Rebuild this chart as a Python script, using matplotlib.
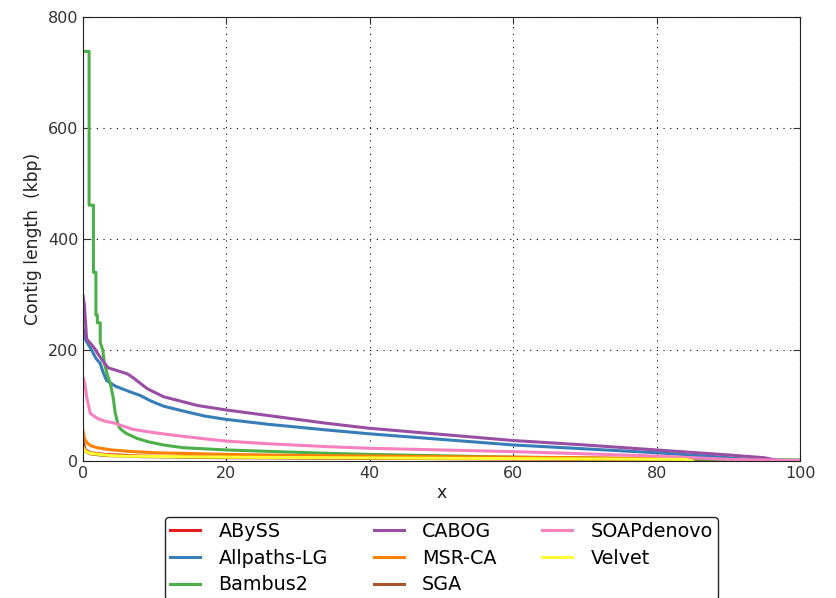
import matplotlib
matplotlib.use("Agg")
import matplotlib.pyplot as plt

# Nx-style contig length curves (x in %, length in kbp)
names = ['ABySS', 'Allpaths-LG', 'Bambus2', 'CABOG', 'MSR-CA', 'SGA', 'SOAPdenovo', 'Velvet']
colors = ['#E41A1C', '#377EB8', '#4DAF4A', '#984EA3', '#FF7F00', '#A65628', '#F781BF', '#FFFF33']

abyss_x = [0, 0.3, 1, 3, 8, 20, 40, 60, 84, 100]
abyss_y = [35, 20, 15, 12, 9, 7, 5, 4, 2, 1]

allpaths_x = [0, 0.2, 0.5, 1.2, 1.8, 2.4, 2.8, 3.3, 4.5, 6.5, 8, 9.5, 11.2, 14, 17, 20, 26, 34, 40, 50, 60, 70, 80, 88, 93, 96, 100]
allpaths_y = [240, 225, 215, 200, 185, 176, 160, 145, 135, 125, 118, 108, 99, 90, 81, 75, 66, 56, 49, 39, 29, 22, 15, 8, 3, 0, 0]

bambus_x = [0, 0.85, 0.85, 1.45, 1.45, 1.8, 1.8, 2.0, 2.0, 2.4, 2.4, 2.75, 3.0, 3.4, 3.8, 4.2, 4.5, 4.9, 5.2, 6, 7.5, 9, 11.2, 14, 20, 34, 40, 60, 80, 100]
bambus_y = [738, 738, 461, 461, 340, 340, 263, 263, 249, 249, 214, 200, 175, 155, 140, 115, 86, 65, 58, 50, 41, 35, 29, 24, 20, 14, 12, 7, 4, 2]

cabog_x = [0, 0.2, 0.5, 1.5, 2.5, 3.5, 5, 6.2, 7, 8, 9, 9.8, 11.2, 13, 16, 20, 27, 34, 40, 50, 60, 70, 80, 90, 95, 97, 100]
cabog_y = [298, 280, 220, 205, 185, 168, 162, 157, 150, 140, 130, 125, 116, 110, 100, 92, 80, 68, 59, 48, 37, 29, 20, 11, 6, 1, 0]

msrca_x = [0, 0.2, 0.6, 1.2, 2, 4, 7, 10, 20, 30, 50, 70, 84, 85]
msrca_y = [55, 40, 32, 27, 24, 20, 17, 15, 12, 10, 8, 6, 4, 0]

sga_x = [0, 0.3, 1, 3, 8, 20, 40, 60, 84, 85]
sga_y = [30, 18, 13, 10, 8, 6, 5, 4, 3, 0]

soap_x = [0, 0.1, 0.3, 0.5, 1, 2, 3, 4.2, 7, 10, 13, 17, 20, 26, 34, 40, 50, 60, 70, 80, 90, 100]
soap_y = [150, 148, 135, 116, 86, 77, 72, 69, 57, 51, 46, 40, 36, 31, 26, 23, 20, 17, 13, 9, 3, 1]

velvet_x = [0, 0.3, 1, 3, 5, 20, 50, 84, 85]
velvet_y = [25, 18, 14, 11, 9, 7, 5, 3, 0]

series = [(abyss_x, abyss_y), (allpaths_x, allpaths_y), (bambus_x, bambus_y), (cabog_x, cabog_y),
          (msrca_x, msrca_y), (sga_x, sga_y), (soap_x, soap_y), (velvet_x, velvet_y)]

plt.rcParams['font.family'] = 'DejaVu Sans'
fig = plt.figure(figsize=(8.36, 5.98), dpi=100)
ax = fig.add_axes([0.0993, 0.229, 0.8577, 0.7426])

for name, col, (xs, ys) in zip(names, colors, series):
    ax.plot(xs, ys, color=col, lw=2.2, label=name)

ax.set_xlim(0, 100)
ax.set_ylim(0, 800)
ax.set_xticks([0, 20, 40, 60, 80, 100])
ax.set_yticks([0, 200, 400, 600, 800])
ax.grid(True, linestyle=(0, (1, 5)), color='black', lw=0.8)
ax.tick_params(direction='in', length=5, labelsize=11.5, colors='#333333', top=True, right=True)
for s in ax.spines.values():
    s.set_color('#222222')
ax.set_xlabel('x', fontsize=12.5, color='#222222', labelpad=2)
ax.set_ylabel('Contig length  (kbp)', fontsize=12.3, color='#222222')

leg = ax.legend(loc='upper center', bbox_to_anchor=(0.5, -0.1255), borderaxespad=0, ncol=3,
                fontsize=13.8, handlelength=1.56, handletextpad=0.95, columnspacing=2.4,
                labelspacing=0.4, borderpad=0.28, frameon=True, fancybox=True)
leg.get_frame().set_edgecolor('#222222')
leg.get_frame().set_alpha(1)

fig.savefig('out.png', dpi=100)
